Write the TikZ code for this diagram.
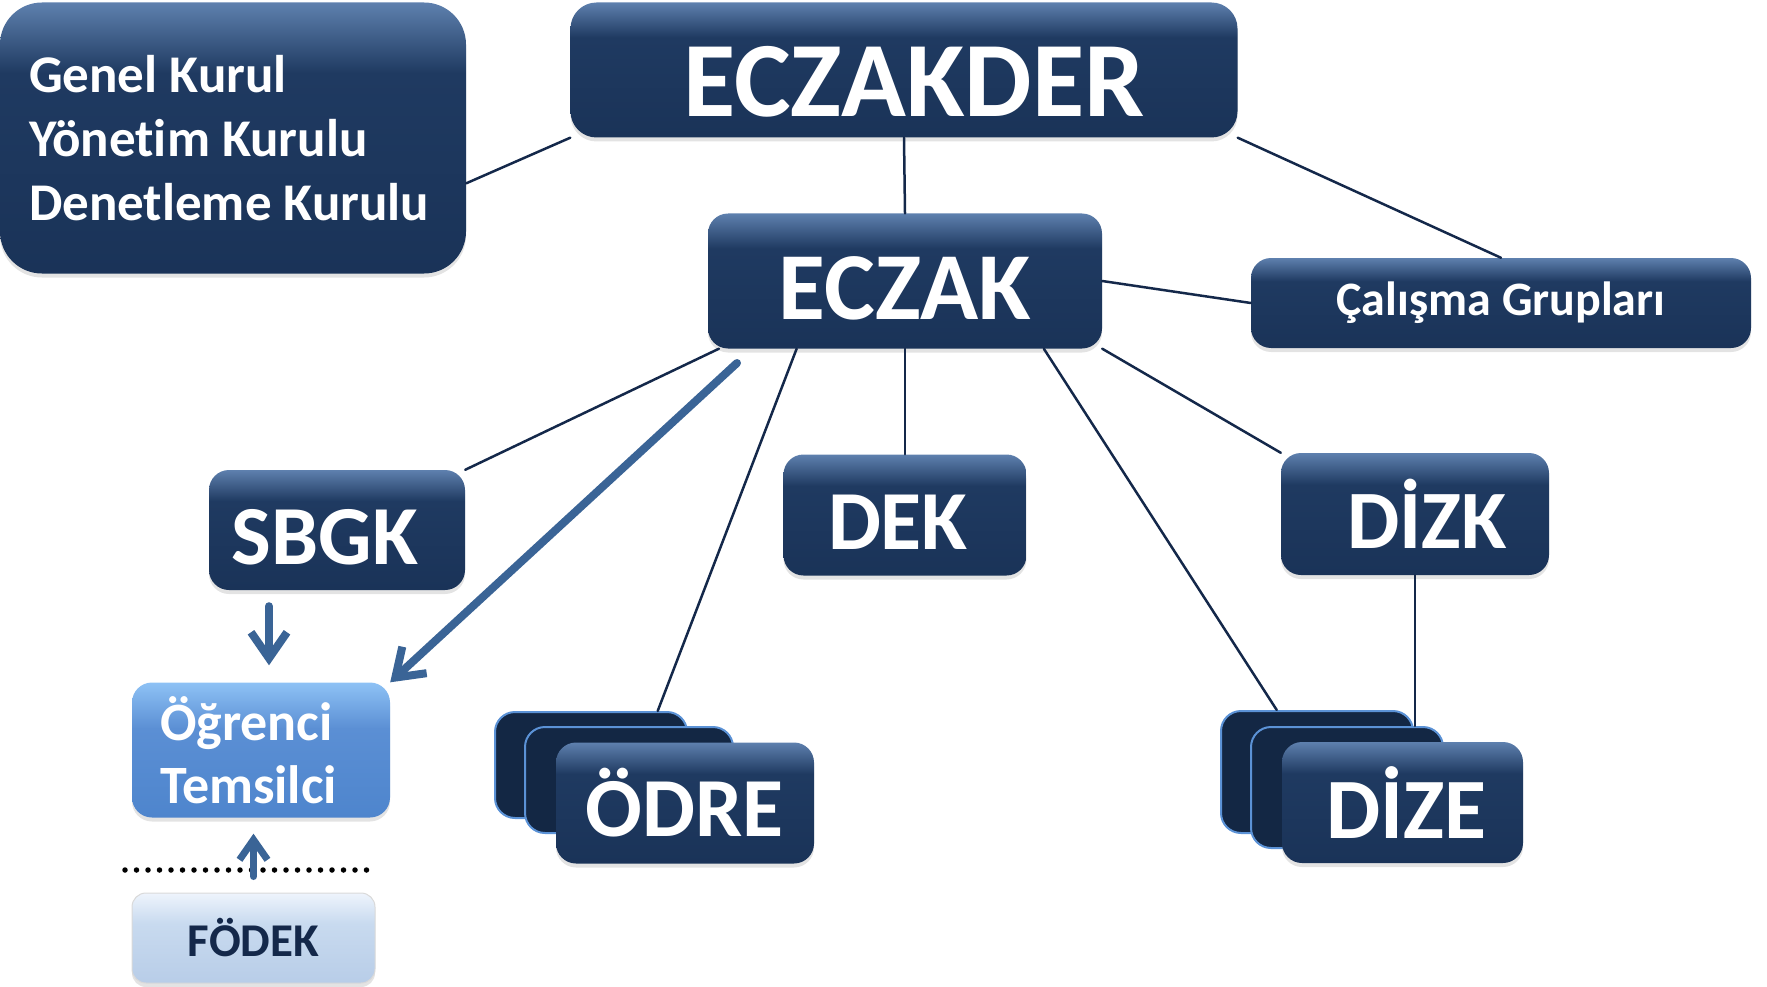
\documentclass[tikz,border=0pt]{standalone}
\usepackage{fontspec}
\setmainfont{Carlito}[Ligatures=NoCommon]
\usepackage{tikz}
\usetikzlibrary{arrows.meta,shadows}
\definecolor{navy}{HTML}{1F3A61}
\definecolor{navyhi}{HTML}{5E80AE}
\definecolor{navylo}{HTML}{1A3358}
\definecolor{deepnavy}{HTML}{132744}
\definecolor{rim}{HTML}{5B92D6}
\definecolor{linenavy}{HTML}{14284A}
\definecolor{arrowblue}{HTML}{3A6496}
\definecolor{sky}{HTML}{5B8FD4}
\definecolor{skyhi}{HTML}{8EC2F5}
\definecolor{skylo}{HTML}{4E85CD}
\definecolor{ice}{HTML}{C8DAEF}
\definecolor{icehi}{HTML}{EEF4FC}
\definecolor{icelo}{HTML}{B8CDE8}
\pgfdeclareverticalshading{bevel}{100bp}{color(0bp)=(navylo); color(25bp)=(navylo); color(62bp)=(navy); color(75bp)=(navyhi); color(100bp)=(navyhi)}
\pgfdeclareverticalshading{bevelsky}{100bp}{color(0bp)=(skylo); color(25bp)=(skylo); color(58bp)=(sky); color(75bp)=(skyhi); color(100bp)=(skyhi)}
\pgfdeclareverticalshading{bevelice}{100bp}{color(0bp)=(icelo); color(25bp)=(icelo); color(58bp)=(ice); color(75bp)=(icehi); color(100bp)=(icehi)}

\begin{document}
\begin{tikzpicture}[x=1pt, y=-1pt, every path/.style={line cap=round}]

        \tikzset{unit/.style = {shape=rectangle, rounded corners=20pt, shade, shading=bevel, text=white, inner sep=0pt, drop shadow={shadow xshift=0pt, shadow yshift=-4pt, opacity=0.22}}}
        \tikzset{card/.style = {shape=rectangle, rounded corners=20pt, fill=deepnavy, draw=rim, line width=2pt}}
        \tikzset{link/.style = {draw=linenavy, line width=2.5pt}}
        \tikzset{flow/.style = {draw=arrowblue, line width=8pt, -{Straight Barb[length=26pt, width=36pt]}}}
        \tikzset{dotrow/.style = {draw=black, line width=5.5pt, dash pattern=on 0pt off 11.5pt}}

        \useasboundingbox (0,0) rectangle (1767,987);

        \node[unit, rounded corners=42pt, minimum width=466pt, minimum height=271pt, text width=408pt, align=flush left, font=\fontsize{53}{64}\selectfont\bfseries] (kurul) at (233,138) {Genel Kurul\\Yönetim Kurulu\\Denetleme Kurulu};
        \node[unit, rounded corners=26pt, minimum width=667pt, minimum height=135pt, text height=94pt, font=\fontsize{107}{110}\selectfont\bfseries] (eczakder) at (904,70) {\hspace{20pt}ECZAKDER};
        \node[unit, minimum width=394pt, minimum height=135pt, text height=78pt, font=\fontsize{96}{100}\selectfont\bfseries] (eczak) at (905,281) {ECZAK};
        \node[unit, minimum width=500pt, minimum height=90pt, font=\fontsize{48}{55}\selectfont\bfseries] (calisma) at (1501,303) {Çalışma Grupları};
        \node[unit, minimum width=256pt, minimum height=120pt, text height=69pt, font=\fontsize{84}{90}\selectfont\bfseries] (sbgk) at (337,530) {SBGK\kern24pt};
        \node[unit, minimum width=243pt, minimum height=121pt, text height=69pt, font=\fontsize{84}{90}\selectfont\bfseries] (dek) at (905,515) {DEK\kern14pt};
        \node[unit, minimum width=268pt, minimum height=122pt, font=\fontsize{83}{90}\selectfont\bfseries] (dizk) at (1415,514) {\hspace{24pt}DİZK};

        \node[card, minimum width=192pt, minimum height=106pt] (odrea) at (591,765) {};
        \node[card, minimum width=208pt, minimum height=106pt] (odreb) at (629,780) {};
        \node[unit, minimum width=258pt, minimum height=121pt, font=\fontsize{84}{90}\selectfont\bfseries] (odre) at (685,803) {ÖDRE};

        \node[card, minimum width=192pt, minimum height=122pt] (dizea) at (1317,772) {};
        \node[card, minimum width=192pt, minimum height=121pt] (dizeb) at (1347,787.5) {};
        \node[unit, minimum width=241pt, minimum height=121pt, font=\fontsize{86}{90}\selectfont\bfseries] (dize) at (1402.5,802.5) {\hspace{8pt}DİZE};

        \node[unit, shading=bevelsky, minimum width=258pt, minimum height=135pt, text width=202pt, align=flush left, font=\fontsize{54}{63}\selectfont\bfseries] (ogr) at (261,750) {Öğrenci\\Temsilci};
        \node[unit, shading=bevelice, rounded corners=14pt, draw=black!15, line width=1pt, text=linenavy, minimum width=243pt, minimum height=90pt, font=\fontsize{47}{50}\selectfont\bfseries] (fodek) at (253.5,938) {FÖDEK};

        \draw[link] (kurul.-11) -- (eczakder.south west);
        \draw[link] (eczakder.south) -- (eczak.north);
        \draw[link] (eczakder.south east) -- (calisma.north);
        \draw[link] (eczak.east) -- (calisma.west);
        \draw[link] (eczak.200) -- (sbgk.north east);
        \draw[link] (eczak.212) -- (odrea.39);
        \draw[link] (eczak.south) -- (dek.north);
        \draw[link] (eczak.-26) -- (dizea.123);
        \draw[link] (eczak.south east) -- (dizk.north west);
        \draw[link] (dizk.south) -- (dizk.south |- dizeb.north);

        \coordinate (tail) at (737,363);
        \draw[flow] (tail) -- (ogr.north east);
        \draw[flow, shorten <=16pt, shorten >=17pt] ([xshift=8pt]ogr.north |- sbgk.south) -- ([xshift=8pt]ogr.north);

        \draw[dotrow] (125,870) -- (373,870);
        \draw[flow, line width=7pt, -{Straight Barb[length=20pt, width=28pt]}, shorten <=16pt, shorten >=16pt] (fodek.north) -- (fodek.north |- ogr.south);
\end{tikzpicture}
\end{document}
